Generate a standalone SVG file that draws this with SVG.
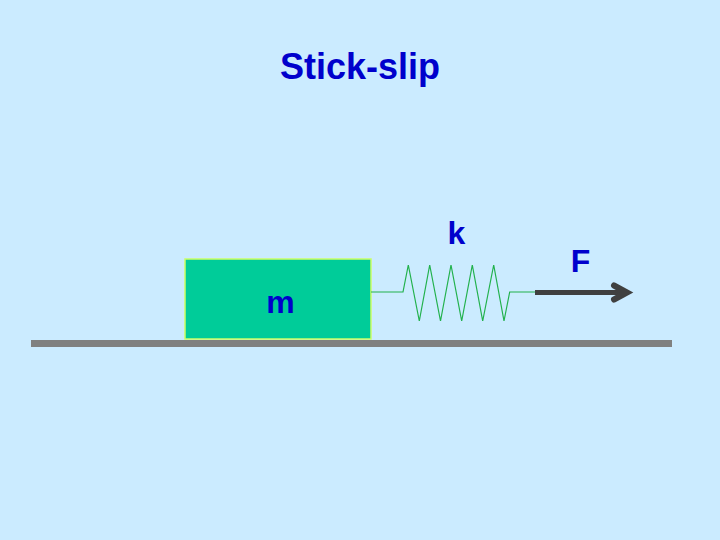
<svg xmlns="http://www.w3.org/2000/svg" width="720" height="540" viewBox="0 0 720 540">
<style>
text{font-family:"Liberation Sans",Arial,sans-serif;font-weight:bold;fill:#0000cc;text-anchor:middle}
.title{font-size:36px}
.lbl{font-size:32px}
.spring{fill:none;stroke:#22b14c;stroke-width:1.2}
</style>
<rect width="720" height="540" fill="#cbebff"/>
<text class="title" x="360" y="79">Stick-slip</text>
<rect id="ground" x="31" y="340" width="641" height="7" fill="#808080"/>
<g id="mass">
<rect x="185" y="259" width="186" height="80" fill="#00cc99" stroke="#ccff66" stroke-width="1.500"/>
<text class="lbl" x="280.500" y="313">m</text>
</g>
<g id="connectors">
<path class="spring" d="M371 292H403L408.300 265L419.300 321L429.700 265L440.500 321L451 265L461.700 321L472.300 265L482.700 321L493.700 265L504 321L509.700 292H535"/>
<path d="M535 292.500H626" fill="none" stroke="#404040" stroke-width="5"/>
<path d="M614 285.500L627 292.500L614 299.500" fill="none" stroke="#404040" stroke-width="6" stroke-linecap="round"/>
</g>
<g id="spring-label"><text class="lbl" x="456.500" y="244">k</text></g>
<g id="force-label"><text class="lbl" x="580.500" y="272">F</text></g>
</svg>
